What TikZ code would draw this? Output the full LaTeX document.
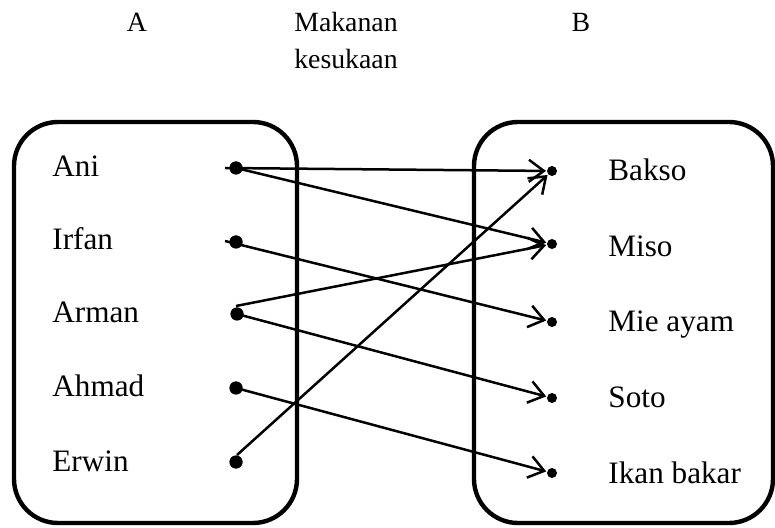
\documentclass[tikz,border=0pt]{standalone}
\usepackage{fontspec}
\setmainfont{Liberation Serif}
\usetikzlibrary{arrows.meta}
\begin{document}
\begin{tikzpicture}[x=0.5pt,y=-0.5pt,
  setbox/.style={draw, line width=2.2pt, rounded corners=22pt, inner sep=0pt},
  ldot/.style={circle, fill=black, inner sep=0pt, minimum size=6.5pt},
  rdot/.style={circle, fill=black, inner sep=0pt, minimum size=5pt},
  member/.style={anchor=base west, inner sep=0pt, font=\fontsize{15.6}{18}\selectfont},
  heading/.style={anchor=base, inner sep=0pt, font=\fontsize{13.9}{16}\selectfont},
  map/.style={line width=1.25pt, -{Straight Barb[length=7.5pt, width=11pt, line width=1.25pt]}, shorten >=0.3pt}
]
\useasboundingbox (0,0) rectangle (775,528);

% the two sets
\node[setbox, minimum width=141.5pt, minimum height=200.5pt] (setA) at (155.5,322.5) {};
\node[setbox, minimum width=149.5pt, minimum height=200.5pt] (setB) at (623.5,322.5) {};

% headings
\node[heading] (hA) at (137,32) {A};
\node[heading] (hR1) at (346,32) {Makanan};
\node[heading] (hR2) at (346,69) {kesukaan};
\node[heading] (hB) at (581,32) {B};

% members of A
\node[member] (tAni)   at (52,177) {Ani};
\node[member] (tIrfan) at (52,250) {Irfan};
\node[member] (tArman) at (52,323) {Arman};
\node[member] (tAhmad) at (52,397) {Ahmad};
\node[member] (tErwin) at (52,471) {Erwin};

% members of B
\node[member] (tBakso) at (608,181) {Bakso};
\node[member] (tMiso)  at (608,257) {Miso};
\node[member] (tMie)   at (608,332) {Mie ayam};
\node[member] (tSoto)  at (608,408) {Soto};
\node[member] (tIkan)  at (608,483) {Ikan bakar};

% points of A
\node[ldot] (ani)   at (236,168) {};
\node[ldot] (irfan) at (236,242) {};
\node[ldot] (arman) at (237,314) {};
\node[ldot] (ahmad) at (236,388) {};
\node[ldot] (erwin) at (236,462) {};

% points of B
\node[rdot] (bakso) at (552,171) {};
\node[rdot] (miso)  at (552,244) {};
\node[rdot] (mie)   at (552,322) {};
\node[rdot] (soto)  at (552,398) {};
\node[rdot] (ikan)  at (552,473) {};

% start points of the arrows
\coordinate (aniS)   at (225,168);
\coordinate (irfanS) at (225,241);
\coordinate (armanS) at (236,306);
\coordinate (erwinS) at (237,455);

% the relation
\draw[map] (aniS) -- (bakso);
\draw[map] (ani.center) -- (miso);
\draw[map] (irfanS) -- (mie);
\draw[map] (armanS) -- (miso);
\draw[map] (arman.center) -- (soto);
\draw[map] (ahmad.center) -- (ikan);
\draw[map] (erwinS) -- (bakso);

% redraw the points over the line ends
\foreach \p in {ani,irfan,arman,ahmad,erwin}{\fill (\p.center) circle[radius=3.25pt];}
\end{tikzpicture}
\end{document}
